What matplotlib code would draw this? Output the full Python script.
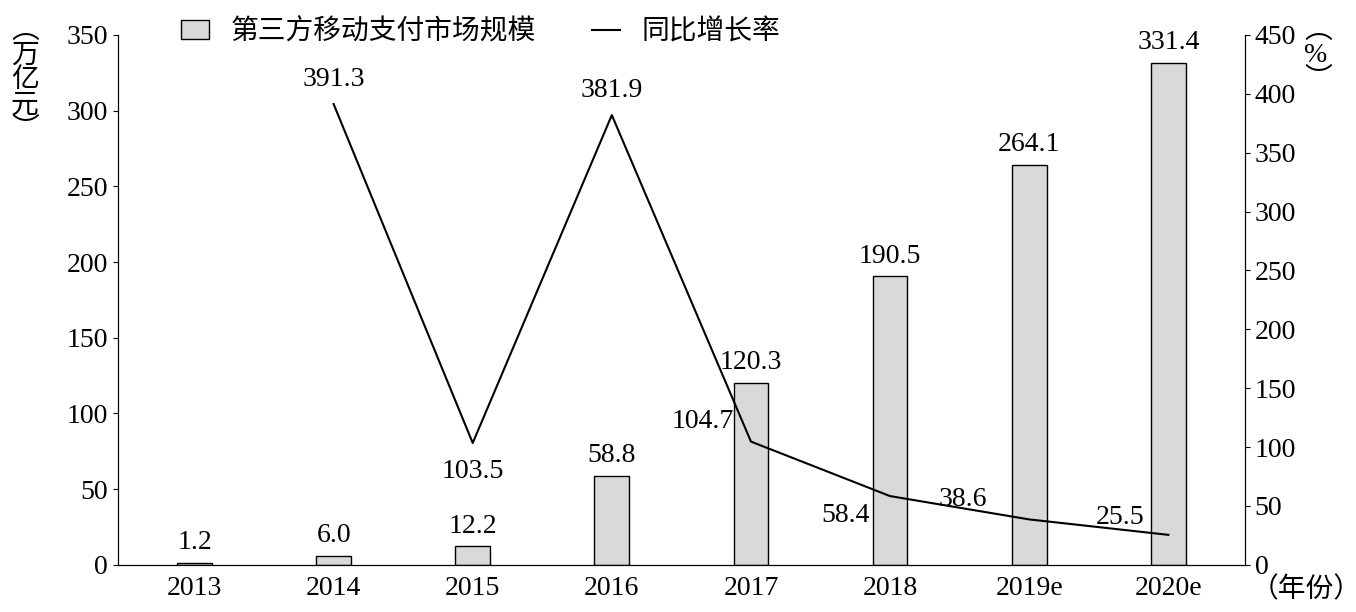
import matplotlib
matplotlib.use("Agg")
import matplotlib.pyplot as plt
from matplotlib.patches import Patch
from matplotlib.lines import Line2D

years = ["2013", "2014", "2015", "2016", "2017", "2018", "2019e", "2020e"]
scale = [1.2, 6.0, 12.2, 58.8, 120.3, 190.5, 264.1, 331.4]
growth_years = ["2014", "2015", "2016", "2017", "2018", "2019e", "2020e"]
growth = [391.3, 103.5, 381.9, 104.7, 58.4, 38.6, 25.5]

fam = ['Liberation Serif', 'Noto Sans CJK SC']
plt.rcParams['font.family'] = fam
FS = 20

fig = plt.figure(figsize=(13.56, 6.12), dpi=100)
ax = fig.add_axes([0.087, 0.077, 0.831, 0.866])
ax2 = ax.twinx()
x = list(range(len(years)))
ax.bar(x, scale, width=0.25, color='#d9d9d9', edgecolor='black', linewidth=1, zorder=2)
for xi, v in zip(x, scale):
    ax.text(xi, v + 5, f"{v:.1f}", ha='center', va='bottom', fontsize=FS)
ax.set_ylim(0, 350)
ax.set_yticks(range(0, 351, 50))
ax.set_xlim(-0.55, len(years) - 0.45)
ax.set_xticks(x)
ax.set_xticklabels(years, fontsize=FS)
ax.tick_params(axis='x', length=0, pad=8)
ax.tick_params(axis='y', labelsize=FS, direction='out')

gx = [years.index(y) for y in growth_years]
ax2.plot(gx, growth, color='black', linewidth=1.5, zorder=3)
ax2.set_ylim(0, 450)
ax2.set_yticks(range(0, 451, 50))
ax2.tick_params(axis='y', labelsize=FS, direction='out')
offsets = [(0, 10, 'center', 'bottom'), (0, -14, 'center', 'top'), (0, 10, 'center', 'bottom'),
           (-0.12, 6, 'right', 'bottom'), (-0.15, -6, 'right', 'top'), (-0.3, 6, 'right', 'bottom'),
           (-0.35, 4, 'center', 'bottom')]
for xi, v, (dx, dy, ha, va) in zip(gx, growth, offsets):
    ax2.text(xi + dx, v + dy, f"{v:.1f}", ha=ha, va=va, fontsize=FS)

for a in (ax, ax2):
    a.spines['top'].set_visible(False)

handles = [Patch(facecolor='#d9d9d9', edgecolor='black'), Line2D([], [], color='black', linewidth=1.5)]
fig.legend(handles, ["第三方移动支付市场规模", "同比增长率"], loc='upper left',
           bbox_to_anchor=(0.115, 1.01), ncol=2, frameon=False,
           handlelength=1.0, columnspacing=2.0, prop={'family': fam, 'size': FS})
ax.legend_ = None
fig.legend_handles = None
fig.text(0.008, 0.97, "︵\n万\n亿\n元\n︶", va='top', ha='left', fontsize=FS, linespacing=1.0)
fig.text(0.962, 0.97, "︵\n%\n︶", va='top', ha='left', fontsize=FS, linespacing=1.0)
fig.text(0.922, 0.035, "（年份）", va='center', ha='left', fontsize=FS)
fig.savefig("out.png", dpi=100)
